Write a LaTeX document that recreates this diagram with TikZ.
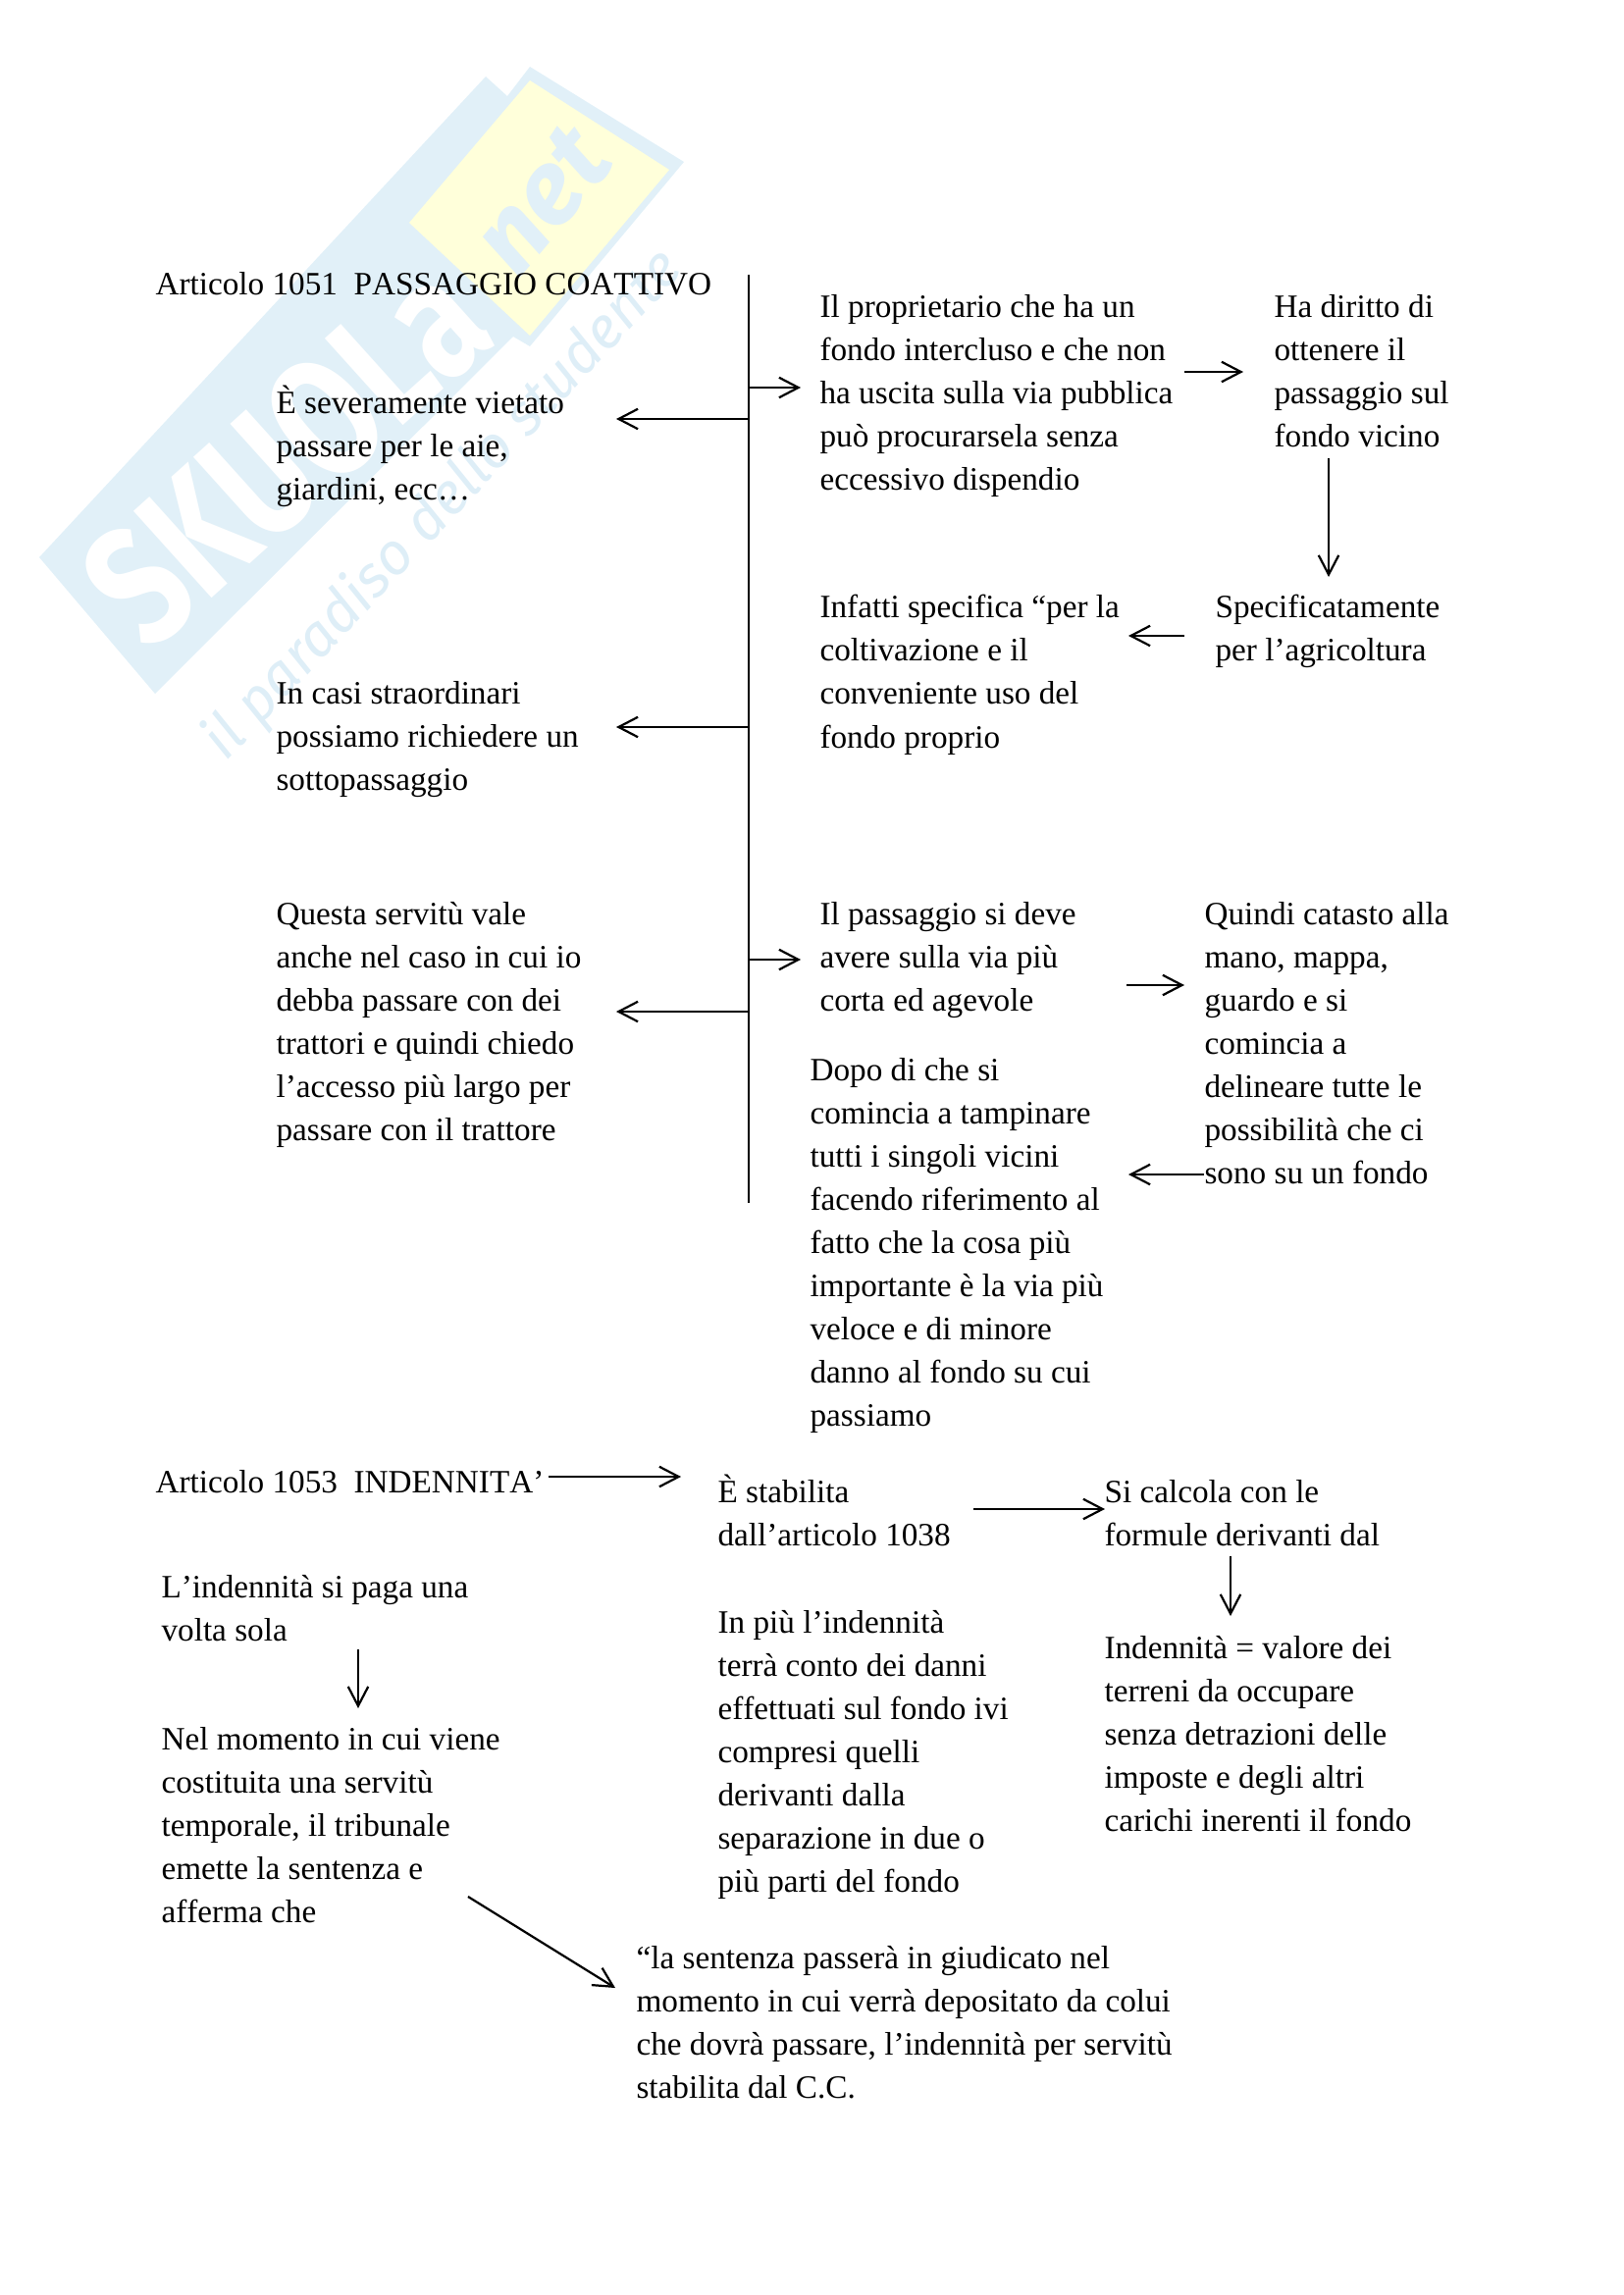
\documentclass[tikz,border=0pt]{standalone}
\usepackage{fontspec}
\setmainfont[Kerning=Off,Ligatures=NoCommon]{Liberation Serif}
\newfontfamily\logofont{Fira Sans}
\usepackage{tikz}
\usetikzlibrary{arrows.meta}
\definecolor{wmblue}{RGB}{225,240,248}
\definecolor{wmtext}{RGB}{222,238,247}
\definecolor{wmyellow}{RGB}{255,255,218}
\tikzset{
  testo/.style = {anchor=north west, inner sep=0pt, align=left, font=\fontsize{12}{15.9}\selectfont},
  freccia/.style = {->, line width=0.8pt},
}
\begin{document}
\begin{tikzpicture}[x=0.012697cm, y=-0.012697cm, >={Straight Barb[length=2.5mm,width=2.6mm]}]
\useasboundingbox (0,0) rectangle (1654,2339);
% logo
\fill[wmblue] (40,568) -- (495,78) -- (517,98) -- (540,68) -- (697,165) -- (540,353) -- (523,343) -- (158,707) -- cycle;
\fill[wmyellow] (540,82) -- (682,173) -- (540,342) -- (417,227) -- cycle;
\node[rotate=42, text=white, font=\fontsize{62}{62}\selectfont\logofont\bfseries] (logo) at (291,462) {\scalebox{0.78}[1]{SKUOLa}};
\node[rotate=50, text=wmblue, font=\fontsize{38}{38}\selectfont\logofont\bfseries\itshape] (logonet) at (552,204) {net};
\node[rotate=47, text=wmtext, font=\fontsize{21.5}{22}\selectfont\logofont\itshape] (motto) at (452,515) {il paradiso dello studente};
% testi
\node[testo] (art1) at (158,277) {Articolo 1051\ \ PASSAGGIO COATTIVO};
\node[testo] (vietato) at (281,392) {È severamente vietato\\passare per le aie,\\giardini, ecc…};
\node[testo] (prop) at (835,300) {Il proprietario che ha un\\fondo intercluso e che non\\ha uscita sulla via pubblica\\può procurarsela senza\\eccessivo dispendio};
\node[testo] (diritto) at (1298,300) {Ha diritto di\\ottenere il\\passaggio sul\\fondo vicino};
\node[testo] (agri) at (1238,606) {Specificatamente\\per l’agricoltura};
\node[testo] (infatti) at (835,606) {Infatti specifica “per la\\coltivazione e il\\conveniente uso del\\fondo proprio};
\node[testo] (casi) at (281,694) {In casi straordinari\\possiamo richiedere un\\sottopassaggio};
\node[testo] (trattori) at (281,919) {Questa servitù vale\\anche nel caso in cui io\\debba passare con dei\\trattori e quindi chiedo\\l’accesso più largo per\\passare con il trattore};
\node[testo] (corta) at (835,919) {Il passaggio si deve\\avere sulla via più\\corta ed agevole};
\node[testo] (catasto) at (1227,919) {Quindi catasto alla\\mano, mappa,\\guardo e si\\comincia a\\delineare tutte le\\possibilità che ci\\sono su un fondo};
\node[testo] (dopo) at (825,1078) {Dopo di che si\\comincia a tampinare\\tutti i singoli vicini\\facendo riferimento al\\fatto che la cosa più\\importante è la via più\\veloce e di minore\\danno al fondo su cui\\passiamo};
\node[testo] (art2) at (158,1498) {Articolo 1053\ \ INDENNITA’};
\node[testo] (stabilita) at (731,1502) {È stabilita\\dall’articolo 1038};
\node[testo] (calcola) at (1125,1508) {Si calcola con le\\formule derivanti dal};
\node[testo] (volta) at (164,1605) {L’indennità si paga una\\volta sola};
\node[testo] (danni) at (731,1641) {In più l’indennità\\terrà conto dei danni\\effettuati sul fondo ivi\\compresi quelli\\derivanti dalla\\separazione in due o\\più parti del fondo};
\node[testo] (valore) at (1125,1667) {Indennità = valore dei\\terreni da occupare\\senza detrazioni delle\\imposte e degli altri\\carichi inerenti il fondo};
\node[testo] (momento) at (164,1760) {Nel momento in cui viene\\costituita una servitù\\temporale, il tribunale\\emette la sentenza e\\afferma che};
\node[testo] (sentenza) at (648,1983) {“la sentenza passerà in giudicato nel\\momento in cui verrà depositato da colui\\che dovrà passare, l’indennità per servitù\\stabilita dal C.C.};
% punti delle frecce
\coordinate (top) at (763,280);
\coordinate (bot) at (763,1226);
\coordinate (s1) at (763,395);
\coordinate (e1) at (816,395);
\coordinate (s2) at (763,427);
\coordinate (e2) at (628,427);
\coordinate (s3) at (1207,379);
\coordinate (e3) at (1267,379);
\coordinate (s4) at (1354,467);
\coordinate (e4) at (1354,588);
\coordinate (s5) at (1207,648);
\coordinate (e5) at (1150,648);
\coordinate (s6) at (763,741);
\coordinate (e6) at (628,741);
\coordinate (s7) at (763,978);
\coordinate (e7) at (816,978);
\coordinate (s8) at (763,1031);
\coordinate (e8) at (628,1031);
\coordinate (s9) at (1148,1004);
\coordinate (e9) at (1207,1004);
\coordinate (s10) at (1227,1197);
\coordinate (e10) at (1150,1197);
\coordinate (s11) at (559,1505);
\coordinate (e11) at (694,1505);
\coordinate (s12) at (992,1538);
\coordinate (e12) at (1126,1538);
\coordinate (s13) at (1254,1586);
\coordinate (e13) at (1254,1647);
\coordinate (s14) at (365,1681);
\coordinate (e14) at (365,1741);
\coordinate (s15) at (477,1933);
\coordinate (e15) at (627,2026);
\draw[line width=0.8pt] (top) -- (bot);
\foreach \n in {1,...,15}
  \draw[freccia] (s\n) -- (e\n);
\end{tikzpicture}
\end{document}
